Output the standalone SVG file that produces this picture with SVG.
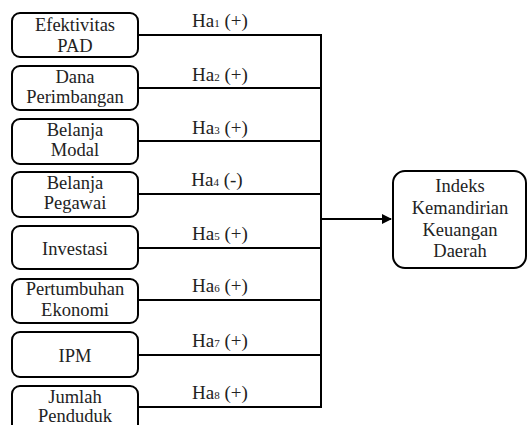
<svg xmlns="http://www.w3.org/2000/svg" width="529" height="425" viewBox="0 0 529 425" font-family="Liberation Serif, Times New Roman, serif">
<defs>
<style>
.box{fill:#fff;stroke:#000;stroke-width:2}
.t{font-size:18.5px;fill:#222;text-anchor:middle}
.lbl{font-size:19px;fill:#222;text-anchor:middle}
.sub{font-size:11px}
.ln{stroke:#000;stroke-width:2;fill:none}
</style>
<marker id="arr" viewBox="0 0 10 10" refX="9" refY="5" markerWidth="5" markerHeight="5" orient="auto" markerUnits="strokeWidth">
<path d="M0,0 L10,5 L0,10 z" fill="#000"/>
</marker>
</defs>
<rect width="529" height="425" fill="#fff"/>
<g id="connectors">
<path class="ln" d="M138,35 H321 M138,88 H321 M138,141 H321 M138,194 H321 M138,248 H321 M138,300 H321 M138,355 H321 M138,407 H321 M321,34 V408"/>
<path class="ln" d="M321,219 H391" marker-end="url(#arr)"/>
<text class="lbl" x="220" y="27">Ha<tspan class="sub">1</tspan> (+)</text>
<text class="lbl" x="220" y="81">Ha<tspan class="sub">2</tspan> (+)</text>
<text class="lbl" x="220" y="134">Ha<tspan class="sub">3</tspan> (+)</text>
<text class="lbl" x="217" y="186">Ha<tspan class="sub">4</tspan> (-)</text>
<text class="lbl" x="220" y="240">Ha<tspan class="sub">5</tspan> (+)</text>
<text class="lbl" x="220" y="292">Ha<tspan class="sub">6</tspan> (+)</text>
<text class="lbl" x="220" y="347">Ha<tspan class="sub">7</tspan> (+)</text>
<text class="lbl" x="220" y="399">Ha<tspan class="sub">8</tspan> (+)</text>
</g>
<g id="n1"><rect class="box" x="12" y="13" width="126" height="44" rx="8"/><text class="t" x="75" y="31">Efektivitas</text><text class="t" x="75" y="52">PAD</text></g>
<g id="n2"><rect class="box" x="12" y="66" width="126" height="44" rx="8"/><text class="t" x="75" y="83">Dana</text><text class="t" x="75" y="103">Perimbangan</text></g>
<g id="n3"><rect class="box" x="12" y="119" width="126" height="45" rx="8"/><text class="t" x="75" y="136">Belanja</text><text class="t" x="75" y="156">Modal</text></g>
<g id="n4"><rect class="box" x="12" y="172" width="126" height="45" rx="8"/><text class="t" x="75" y="189">Belanja</text><text class="t" x="75" y="209">Pegawai</text></g>
<g id="n5"><rect class="box" x="12" y="226" width="126" height="43" rx="8"/><text class="t" x="75" y="255">Investasi</text></g>
<g id="n6"><rect class="box" x="12" y="279" width="126" height="44" rx="8"/><text class="t" x="75" y="295">Pertumbuhan</text><text class="t" x="75" y="316">Ekonomi</text></g>
<g id="n7"><rect class="box" x="12" y="332" width="126" height="45" rx="8"/><text class="t" x="75" y="362">IPM</text></g>
<g id="n8"><rect class="box" x="12" y="386" width="126" height="50" rx="8"/><text class="t" x="75" y="403">Jumlah</text><text class="t" x="75" y="422">Penduduk</text></g>
<g id="target"><rect class="box" x="393" y="171" width="133" height="97" rx="12"/><text class="t" x="460" y="192">Indeks</text><text class="t" x="460" y="214">Kemandirian</text><text class="t" x="460" y="236">Keuangan</text><text class="t" x="460" y="257">Daerah</text></g>
</svg>
